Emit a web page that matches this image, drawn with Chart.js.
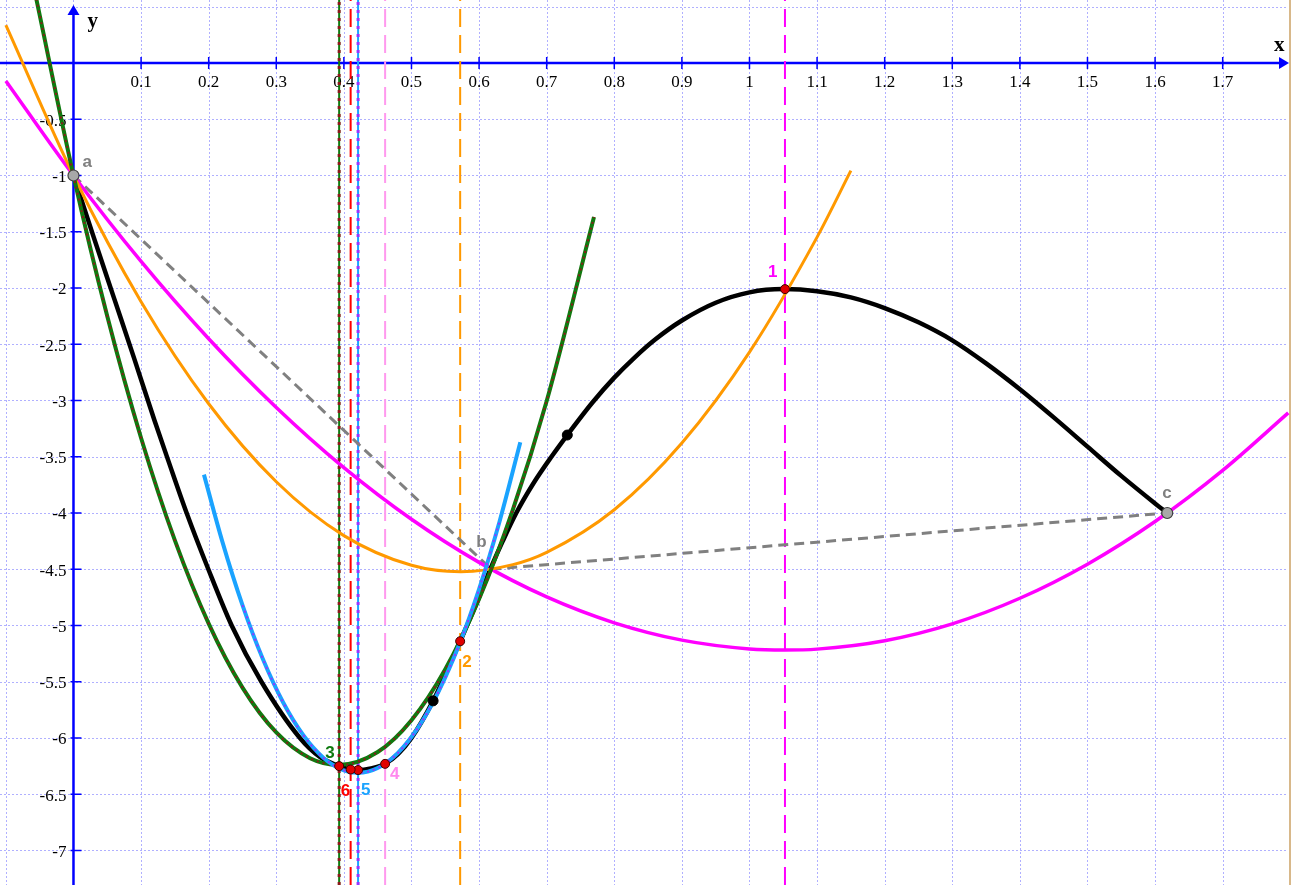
<!DOCTYPE html>
<html>
<head>
<meta charset="utf-8">
<script src="https://cdn.jsdelivr.net/npm/chart.js@4.4.0/dist/chart.umd.min.js"></script>
<style>
  html, body { margin: 0; padding: 0; background: #ffffff; }
  #c { display: block; }
</style>
</head>
<body>
<canvas id="c" width="1294" height="885"></canvas>
<script>
// ---- view window (axis ranges) ----
const X_MIN = -0.1087, X_MAX = 1.8055;
const Y_MIN = -7.3067, Y_MAX = 0.56;

// ---- tick labels ----
const xTickValues = [0.1,0.2,0.3,0.4,0.5,0.6,0.7,0.8,0.9,1,1.1,1.2,1.3,1.4,1.5,1.6,1.7];
const xTickLabels = ["0.1","0.2","0.3","0.4","0.5","0.6","0.7","0.8","0.9","1","1.1","1.2","1.3","1.4","1.5","1.6","1.7"];
const yTickValues = [-0.5,-1,-1.5,-2,-2.5,-3,-3.5,-4,-4.5,-5,-5.5,-6,-6.5,-7];
const yTickLabels = ["-0.5","-1","-1.5","-2","-2.5","-3","-3.5","-4","-4.5","-5","-5.5","-6","-6.5","-7"];

// ---- the function (black curve) ----
const blackX = [0, 0.03, 0.06, 0.09, 0.12, 0.14, 0.1674, 0.1995, 0.234, 0.278, 0.335, 0.365, 0.393, 0.41, 0.421, 0.44, 0.461, 0.48, 0.50, 0.532, 0.55, 0.572, 0.595, 0.616, 0.635, 0.655, 0.68, 0.707, 0.7305, 0.768, 0.80, 0.83, 0.86, 0.90, 0.95, 1.0, 1.05, 1.10, 1.15, 1.20, 1.25, 1.30, 1.35, 1.40, 1.45, 1.50, 1.55, 1.60, 1.618];
const blackY = [-1, -1.55, -2.09, -2.63, -3.18, -3.53, -4.0, -4.5, -5.0, -5.5, -6.0, -6.17, -6.25, -6.28, -6.285, -6.27, -6.23, -6.144, -6.0, -5.67, -5.44, -5.14, -4.82, -4.507, -4.25, -4.0, -3.74, -3.5, -3.307, -3.016, -2.797, -2.618, -2.46, -2.289, -2.131, -2.039, -2.01, -2.028, -2.083, -2.178, -2.305, -2.465, -2.67, -2.90, -3.15, -3.41, -3.67, -3.915, -4.0];

// ---- magenta parabola (through a, b, c) ----
const magentaX = [-0.1, 0, 0.1, 0.2, 0.3, 0.4, 0.5, 0.6, 0.7, 0.8, 0.9, 1.0, 1.052, 1.1, 1.2, 1.3, 1.4, 1.5, 1.6, 1.7, 1.797];
const magentaY = [-0.160, -1, -1.764, -2.451, -3.062, -3.597, -4.056, -4.439, -4.746, -4.976, -5.130, -5.208, -5.218, -5.210, -5.135, -4.985, -4.758, -4.455, -4.076, -3.621, -3.11];

// ---- orange parabola ----
const orangeX = [-0.1, 0, 0.1, 0.2, 0.3, 0.4, 0.5, 0.573, 0.65, 0.7, 0.8, 0.9, 1.0, 1.1, 1.15];
const orangeY = [0.336, -1, -2.122, -3.029, -3.722, -4.201, -4.465, -4.522, -4.459, -4.350, -3.971, -3.378, -2.570, -1.548, -0.957];

// ---- green parabola ----
const greenX = [-0.055, 0, 0.05, 0.1, 0.15, 0.2, 0.25, 0.3, 0.35, 0.392, 0.45, 0.5, 0.55, 0.6, 0.65, 0.7, 0.77];
const greenY = [0.57, -1.0, -2.252, -3.333, -4.243, -4.983, -5.552, -5.951, -6.180, -6.24, -6.125, -5.842, -5.389, -4.765, -3.970, -3.005, -1.368];

// ---- blue parabola ----
const blueX = [0.193, 0.22, 0.25, 0.28, 0.31, 0.34, 0.37, 0.40, 0.421, 0.45, 0.48, 0.51, 0.54, 0.57, 0.60, 0.63, 0.661];
const blueY = [-3.659, -4.250, -4.819, -5.296, -5.682, -5.975, -6.177, -6.288, -6.31, -6.267, -6.132, -5.906, -5.588, -5.178, -4.676, -4.082, -3.372];

// ---- bracket points a, b, c and chord ----
const bracketNames = ["a", "b", "c"];
const bracketX = [0, 0.618, 1.618];
const bracketY = [-1, -4.5, -4.0];

// ---- iterates 1..6 ----
const iterNames = ["1", "2", "3", "4", "5", "6"];
const iterX = [1.0525, 0.572, 0.393, 0.461, 0.421, 0.41];
const iterY = [-2.01, -5.14, -6.25, -6.23, -6.285, -6.28];

// ---- extra black points on the function ----
const extraX = [0.532, 0.7305];
const extraY = [-5.67, -3.307];

// ---- helpers ----
const pts = (xs, ys) => xs.map((x, i) => ({x: x, y: ys[i]}));
const vline = (x) => [{x: x, y: Y_MIN}, {x: x, y: Y_MAX}];
const sub = (xs, ys, lo, hi) => pts(xs, ys).filter(p => p.x >= lo && p.x <= hi);

const COL = {
  black: '#000000', magenta: '#ff00ff', orange: '#ff9900', green: '#0f7a0f',
  dred: '#8b1a1a', blue: '#1aa3ff', purple: '#9933ff', pink: '#ff99ee',
  red: '#ff0000', gray: '#808080', axis: '#0000ff', grid: 'rgba(150,150,255,0.75)'
};

const line = (data, color, width, dash, extra) => Object.assign({
  data: data, showLine: true, borderColor: color, backgroundColor: color,
  borderWidth: width, borderDash: dash || [], pointRadius: 0,
  cubicInterpolationMode: 'monotone', fill: false
}, extra || {});
const straight = {tension: 0, cubicInterpolationMode: 'default'};

const datasetsInOrder = [
  // vertical dashed lines
  line(vline(iterX[0]), COL.magenta, 2, [18, 8], straight),
  line(vline(iterX[1]), COL.orange, 2, [18, 8], straight),
  line(vline(iterX[3]), COL.pink, 2, [18, 8], straight),
  line(vline(iterX[5]), COL.red, 2, [18, 8], straight),
  line(vline(iterX[2]), COL.green, 2, [], straight),
  line(vline(iterX[2]), COL.dred, 3, [3, 5], straight),
  line(vline(iterX[4]), COL.blue, 2, [], straight),
  line(vline(iterX[4]), COL.purple, 3, [3, 5], straight),
  // chords
  line(pts(bracketX.slice(0, 2), bracketY.slice(0, 2)), COL.gray, 3, [10, 6], straight),
  line(pts(bracketX.slice(1, 3), bracketY.slice(1, 3)), COL.gray, 3, [10, 6], straight),
  // curves
  line(pts(magentaX, magentaY), COL.magenta, 3.5),
  line(pts(blackX, blackY), COL.black, 4.5),
  line(pts(orangeX, orangeY), COL.orange, 3),
  line(pts(greenX, greenY), COL.green, 4),
  line(pts(greenX, greenY), COL.dred, 2, [2, 4]),
  line(pts(blueX, blueY), COL.blue, 4),
  line(sub(blueX, blueY, 0.222, 0.64), COL.purple, 2, [2, 4]),
  // points
  { data: pts(extraX, extraY), showLine: false, pointRadius: 5, pointBackgroundColor: '#000', pointBorderColor: '#000' },
  { data: pts(iterX, iterY), showLine: false, pointRadius: 4.5, pointBackgroundColor: '#e00000', pointBorderColor: '#400000', pointBorderWidth: 1 },
  { data: pts([bracketX[0], bracketX[2]], [bracketY[0], bracketY[2]]), showLine: false, pointRadius: 5.5, pointBackgroundColor: '#a8a8a8', pointBorderColor: '#404040', pointBorderWidth: 1.2 }
];
const N = datasetsInOrder.length;
datasetsInOrder.forEach((d, i) => { d.order = N - i; });

// ---- background, grid, axes (drawn below datasets) ----
const underlay = {
  id: 'underlay',
  beforeDatasetsDraw(chart) {
    const {ctx, scales: {x, y}} = chart;
    const W = chart.width, H = chart.height;
    const right = 1288;
    ctx.save();
    ctx.fillStyle = '#fff';
    ctx.fillRect(0, 0, W, H);
    // grid
    ctx.strokeStyle = COL.grid;
    ctx.lineWidth = 1;
    ctx.setLineDash([2, 2]);
    for (let k = -1; k <= 18; k++) {
      const px = Math.round(x.getPixelForValue(k / 10)) + 0.5;
      if (px > right) continue;
      ctx.beginPath(); ctx.moveTo(px, 0); ctx.lineTo(px, H); ctx.stroke();
    }
    for (let k = 1; k >= -15; k--) {
      const py = Math.round(y.getPixelForValue(k / 2)) + 0.5;
      ctx.beginPath(); ctx.moveTo(0, py); ctx.lineTo(right, py); ctx.stroke();
    }
    ctx.setLineDash([]);
    // right border of view
    ctx.strokeStyle = '#d8b88a';
    ctx.lineWidth = 2;
    ctx.beginPath(); ctx.moveTo(right + 2, 0); ctx.lineTo(right + 2, H); ctx.stroke();
    // axes
    const x0 = x.getPixelForValue(0), y0 = y.getPixelForValue(0);
    ctx.strokeStyle = COL.axis;
    ctx.fillStyle = COL.axis;
    ctx.lineWidth = 2.5;
    ctx.beginPath(); ctx.moveTo(0, y0); ctx.lineTo(right - 6, y0); ctx.stroke();
    ctx.beginPath(); ctx.moveTo(x0, H); ctx.lineTo(x0, 12); ctx.stroke();
    // arrows
    ctx.beginPath(); ctx.moveTo(right + 1, y0); ctx.lineTo(right - 9, y0 - 6); ctx.lineTo(right - 9, y0 + 6); ctx.closePath(); ctx.fill();
    ctx.beginPath(); ctx.moveTo(x0, 5); ctx.lineTo(x0 - 6, 15); ctx.lineTo(x0 + 6, 15); ctx.closePath(); ctx.fill();
    // ticks
    ctx.lineWidth = 1.5;
    xTickValues.forEach(v => {
      const px = x.getPixelForValue(v);
      ctx.beginPath(); ctx.moveTo(px, y0 - 6); ctx.lineTo(px, y0 + 6); ctx.stroke();
    });
    yTickValues.forEach(v => {
      const py = y.getPixelForValue(v);
      ctx.beginPath(); ctx.moveTo(x0 - 3, py); ctx.lineTo(x0 + 8, py); ctx.stroke();
    });
    // tick labels
    ctx.fillStyle = '#000';
    ctx.font = '17px "Liberation Serif", "DejaVu Serif", serif';
    ctx.textAlign = 'center';
    ctx.textBaseline = 'alphabetic';
    xTickValues.forEach((v, i) => {
      ctx.fillText(xTickLabels[i], x.getPixelForValue(v), y0 + 24);
    });
    ctx.textAlign = 'right';
    ctx.textBaseline = 'middle';
    yTickValues.forEach((v, i) => {
      ctx.fillText(yTickLabels[i], x0 - 7, y.getPixelForValue(v) + 2);
    });
    // axis names
    ctx.font = 'bold 21px "Liberation Serif", serif';
    ctx.textAlign = 'left';
    ctx.textBaseline = 'alphabetic';
    ctx.fillText('y', x0 + 14, 27);
    ctx.fillText('x', right - 14, 51);
    ctx.restore();
  }
};

// ---- point labels (drawn above datasets) ----
const labelColors = {a: '#808080', b: '#808080', c: '#808080', '1': '#ff00ff', '2': '#ff9900', '3': '#0f7a0f', '4': '#ff88ee', '5': '#1aa3ff', '6': '#ff0000'};
const labelOffsets = {a: [9, -8], b: [-15, -22], c: [-5, -15], '1': [-17, -12], '2': [2, 26], '3': [-14, -8], '4': [5, 15], '5': [3, 25], '6': [-10, 27]};
const overlay = {
  id: 'overlay',
  afterDatasetsDraw(chart) {
    const {ctx, scales: {x, y}} = chart;
    ctx.save();
    ctx.font = 'bold 17px "Liberation Sans", Arial, sans-serif';
    ctx.textAlign = 'left';
    ctx.textBaseline = 'alphabetic';
    const put = (name, vx, vy) => {
      const o = labelOffsets[name];
      ctx.fillStyle = labelColors[name];
      ctx.fillText(name, x.getPixelForValue(vx) + o[0], y.getPixelForValue(vy) + o[1]);
    };
    bracketNames.forEach((n, i) => put(n, bracketX[i], bracketY[i]));
    iterNames.forEach((n, i) => put(n, iterX[i], iterY[i]));
    ctx.restore();
  }
};

new Chart(document.getElementById('c'), {
  type: 'scatter',
  data: { datasets: datasetsInOrder },
  options: {
    responsive: false,
    animation: false,
    layout: { padding: 0, autoPadding: false },
    plugins: { legend: { display: false }, tooltip: { enabled: false } },
    scales: {
      x: { type: 'linear', min: X_MIN, max: X_MAX, display: false },
      y: { type: 'linear', min: Y_MIN, max: Y_MAX, display: false }
    }
  },
  plugins: [underlay, overlay]
});
</script>
</body>
</html>
